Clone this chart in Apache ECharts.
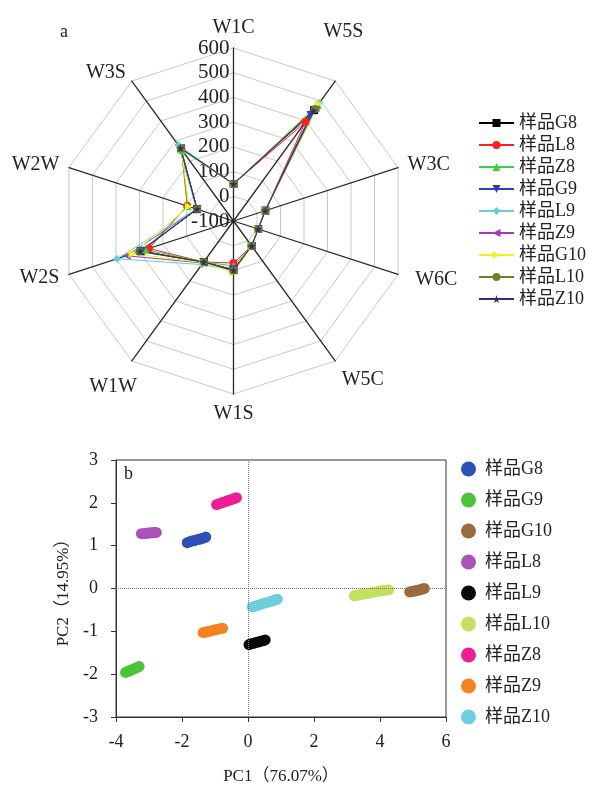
<!DOCTYPE html>
<html><head><meta charset="utf-8">
<script src="https://cdn.jsdelivr.net/npm/echarts@6/dist/echarts.min.js"></script>
<style>html,body{margin:0;padding:0;background:#fff}#c{width:598px;height:787px}</style>
</head><body><div id="c"></div>
<script>
// ---------- Panel a: radar (axes listed clockwise from the top) ----------
const radarAxes = ['W1C', 'W5S', 'W3C', 'W6C', 'W5C', 'W1S', 'W1W', 'W2S', 'W2W', 'W3S'];
const radarMin = -100;
const radarMax = 600;
const radarSamples = ['样品G8', '样品L8', '样品Z8', '样品G9', '样品L9', '样品Z9', '样品G10', '样品L10', '样品Z10'];
const radarG8  = [50, 455, 35, 5, 25,  98, 105, 295, 55, 262];
const radarL8  = [50, 395, 35, 5, 25,  70, 105, 260, 97, 258];
const radarZ8  = [50, 480, 35, 5, 25,  82, 105, 275, 95, 255];
const radarG9  = [50, 430, 35, 5, 25,  95, 108, 290, 55, 262];
const radarL9  = [50, 490, 35, 5, 25, 100, 118, 395, 58, 280];
const radarZ9  = [50, 465, 35, 5, 25, 100, 110, 355, 55, 265];
const radarG10 = [50, 485, 35, 5, 25, 108, 108, 330, 90, 258];
const radarL10 = [50, 460, 35, 5, 25, 100, 105, 300, 55, 262];
const radarZ10 = [50, 450, 35, 5, 25, 100, 105, 297, 55, 265];
const radarValues = [radarG8, radarL8, radarZ8, radarG9, radarL9, radarZ9, radarG10, radarL10, radarZ10];

// ---------- Panel b: PCA scores ----------
const pcaX = [-4, 6, 2];   // min, max, interval
const pcaY = [-3, 3, 1];
const pcaSamples = ['样品G8', '样品G9', '样品G10', '样品L8', '样品L9', '样品L10', '样品Z8', '样品Z9', '样品Z10'];
const pcaG8  = [[-1.84,1.07],[-1.77,1.09],[-1.70,1.11],[-1.62,1.12],[-1.55,1.14],[-1.47,1.15],[-1.40,1.17],[-1.34,1.18],[-1.28,1.20]];
const pcaG9  = [[-3.71,-1.96],[-3.65,-1.94],[-3.59,-1.92],[-3.53,-1.90],[-3.47,-1.88],[-3.41,-1.86],[-3.35,-1.84],[-3.30,-1.82]];
const pcaG10 = [[4.90,-0.08],[4.96,-0.07],[5.03,-0.06],[5.09,-0.05],[5.15,-0.04],[5.22,-0.03],[5.28,-0.01],[5.34,0.00]];
const pcaL8  = [[-3.23,1.28],[-3.16,1.28],[-3.10,1.29],[-3.03,1.29],[-2.97,1.30],[-2.90,1.30],[-2.84,1.31],[-2.78,1.31]];
const pcaL9  = [[0.03,-1.31],[0.10,-1.29],[0.17,-1.28],[0.24,-1.26],[0.31,-1.25],[0.38,-1.23],[0.45,-1.22],[0.52,-1.20]];
const pcaL10 = [[3.22,-0.17],[3.31,-0.16],[3.40,-0.14],[3.50,-0.13],[3.59,-0.12],[3.68,-0.11],[3.78,-0.09],[3.87,-0.08],[3.97,-0.06],[4.07,-0.05],[4.16,-0.04],[4.26,-0.03]];
const pcaZ8  = [[-0.95,1.96],[-0.87,1.98],[-0.80,2.00],[-0.72,2.02],[-0.64,2.04],[-0.57,2.06],[-0.49,2.08],[-0.42,2.10],[-0.35,2.12]];
const pcaZ9  = [[-1.36,-1.03],[-1.28,-1.02],[-1.20,-1.00],[-1.12,-0.99],[-1.03,-0.97],[-0.95,-0.96],[-0.86,-0.94],[-0.77,-0.93]];
const pcaZ10 = [[0.13,-0.43],[0.22,-0.41],[0.32,-0.39],[0.41,-0.36],[0.51,-0.34],[0.60,-0.32],[0.70,-0.30],[0.80,-0.27],[0.89,-0.25]];
const pcaValues = [pcaG8, pcaG9, pcaG10, pcaL8, pcaL9, pcaL10, pcaZ8, pcaZ9, pcaZ10];

// ---------- styles ----------
const FONT = "'Liberation Serif', 'Noto Sans CJK SC', serif";
const TXT = '#222';
const radarColors = ['#000000', '#ff1f1f', '#3ccf3c', '#2f3fb8', '#5fd0dc', '#a43db3', '#f2f21e', '#6f7f26', '#2c2f6e'];
const radarSymbols = [
  'rect', 'circle', 'triangle',
  'path://M0,0 L10,0 L5,9 Z',
  'diamond',
  'path://M9,0 L9,10 L0,5 Z',
  'path://M0,0 L0,10 L9,5 Z',
  'circle',
  'path://M5,0 L6.2,3.6 L10,3.6 L6.9,5.9 L8.1,9.5 L5,7.3 L1.9,9.5 L3.1,5.9 L0,3.6 L3.8,3.6 Z'
];
const pcaColors = ['#2d50b6', '#4cc43a', '#9c6b3c', '#a952b8', '#0a0a0a', '#c3e05e', '#ee1e95', '#f5821f', '#6dcfd9'];
// per-axis name placement tweaks
const nameTweaks = {
  W5S: { nameGap: 48, nameTextStyle: { align: 'right', verticalAlign: 'bottom' } },
  W6C: { nameGap: 18, nameTextStyle: { align: 'left', verticalAlign: 'middle' } },
  W5C: { nameGap: 11, nameTextStyle: { align: 'left', verticalAlign: 'top' } },
  W1W: { nameGap: 32, nameTextStyle: { align: 'center', verticalAlign: 'middle' } }
};

// ECharts places radar indicators counter-clockwise; map the clockwise reading onto it.
const ccwOrder = [0, 9, 8, 7, 6, 5, 4, 3, 2, 1];
const toCCW = arr => ccwOrder.map(i => arr[i]);

const indicators = toCCW(radarAxes).map((n, i) => {
  const ind = Object.assign({ name: n, min: radarMin, max: radarMax }, nameTweaks[n] || {});
  if (i === 0) ind.axisLabel = { show: true, fontSize: 21, color: TXT, fontFamily: FONT, margin: 4 };
  return ind;
});

const series = [];
// legend helpers (line + marker icons)
radarSamples.forEach((s, i) => {
  series.push({
    type: 'line', name: s, data: [], xAxisIndex: 1, yAxisIndex: 1,
    symbol: radarSymbols[i], symbolSize: 8,
    lineStyle: { width: 1, color: radarColors[i] }, itemStyle: { color: radarColors[i] }
  });
});
radarSamples.forEach((s, i) => {
  series.push({
    type: 'radar', name: s, radarIndex: 0,
    symbol: radarSymbols[i], symbolSize: 8,
    lineStyle: { width: 1, color: radarColors[i] }, itemStyle: { color: radarColors[i] },
    data: [{ name: s, value: toCCW(radarValues[i]) }]
  });
});
pcaSamples.forEach((s, i) => {
  const ser = {
    type: 'scatter', name: 'b:' + s, xAxisIndex: 0, yAxisIndex: 0,
    symbol: 'circle', symbolSize: 11, itemStyle: { color: pcaColors[i], opacity: 1 },
    data: pcaValues[i]
  };
  if (i === 0) {
    ser.markLine = {
      silent: true, symbol: ['none', 'none'], label: { show: false },
      lineStyle: { type: 'dotted', color: '#777', width: 1 },
      data: [{ xAxis: 0 }, { yAxis: 0 }]
    };
  }
  series.push(ser);
});

const chart = echarts.init(document.getElementById('c'), null, { renderer: 'canvas' });
chart.setOption({
  animation: false,
  backgroundColor: '#fff',
  title: [
    { text: 'a', left: 55, top: 18, textStyle: { fontSize: 18, fontWeight: 'normal', fontFamily: FONT, color: TXT } },
    { text: 'b', left: 119, top: 460, textStyle: { fontSize: 18, fontWeight: 'normal', fontFamily: FONT, color: TXT } }
  ],
  radar: {
    center: [233.5, 221], radius: 173, startAngle: 90, splitNumber: 7, shape: 'polygon',
    indicator: indicators,
    axisName: { color: TXT, fontSize: 20, fontFamily: FONT },
    nameGap: 10,
    splitLine: { lineStyle: { color: '#c9c9c9', width: 1 } },
    splitArea: { show: false },
    axisLine: { lineStyle: { color: '#2a2a2a', width: 1.3 } },
    axisLabel: { show: false }
  },
  grid: [
    { left: 116, right: 152, top: 460, bottom: 70, show: true, borderColor: '#333', borderWidth: 1, containLabel: false },
    { left: 0, top: 0, width: 1, height: 1, show: false }
  ],
  xAxis: [
    { type: 'value', gridIndex: 0, min: pcaX[0], max: pcaX[1], interval: pcaX[2],
      axisLine: { onZero: false, lineStyle: { color: '#333' } },
      axisTick: { show: true, inside: false, length: 5, lineStyle: { color: '#333' } },
      axisLabel: { fontSize: 18, color: TXT, fontFamily: FONT, margin: 16 },
      splitLine: { show: false },
      name: 'PC1（76.07%）', nameLocation: 'middle', nameGap: 51,
      nameTextStyle: { fontSize: 17, color: TXT, fontFamily: FONT } },
    { type: 'value', gridIndex: 1, show: false }
  ],
  yAxis: [
    { type: 'value', gridIndex: 0, min: pcaY[0], max: pcaY[1], interval: pcaY[2],
      axisLine: { onZero: false, lineStyle: { color: '#333' } },
      axisTick: { show: true, inside: false, length: 5, lineStyle: { color: '#333' } },
      axisLabel: { fontSize: 18, color: TXT, fontFamily: FONT, margin: 18 },
      splitLine: { show: false },
      name: 'PC2（14.95%）', nameLocation: 'middle', nameGap: 36,
      nameTextStyle: { fontSize: 17, color: TXT, fontFamily: FONT } },
    { type: 'value', gridIndex: 1, show: false }
  ],
  legend: [
    { data: radarSamples, orient: 'vertical', left: 473, top: 109, itemWidth: 35, itemHeight: 10, itemGap: 4,
      textStyle: { fontSize: 18, color: TXT, fontFamily: FONT }, selectedMode: false },
    { data: pcaSamples.map(s => 'b:' + s), orient: 'vertical', left: 456, top: 455, itemWidth: 15, itemHeight: 15, itemGap: 13,
      icon: 'circle', formatter: n => n.slice(2),
      textStyle: { fontSize: 18, color: TXT, fontFamily: FONT, padding: [0, 0, 0, 4] }, selectedMode: false }
  ],
  series: series
});
</script></body></html>
